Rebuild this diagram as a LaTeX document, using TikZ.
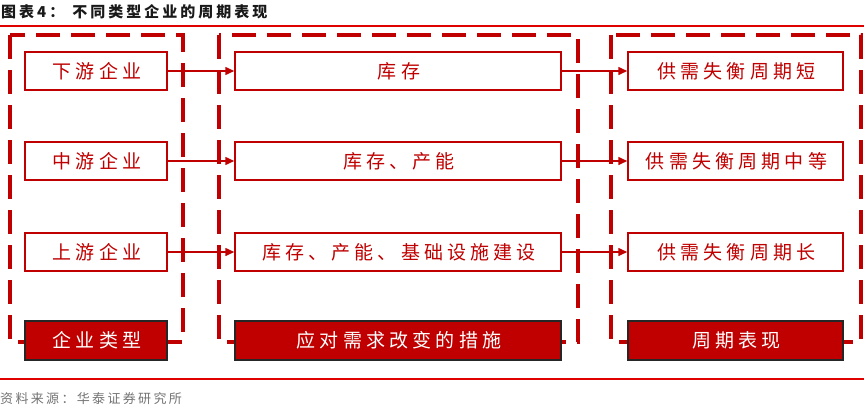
\documentclass[tikz,border=0pt]{standalone}
\usepackage{fontspec}
\newfontfamily\cjk[LetterSpace=22]{Noto Sans CJK SC}
\newfontfamily\cjktitle[LetterSpace=20]{Noto Sans CJK SC}
\newfontfamily\cjksrc[LetterSpace=18]{Noto Sans CJK SC}
\usetikzlibrary{arrows.meta}
\definecolor{dred}{HTML}{C00000}
\definecolor{lred}{HTML}{E00000}
\begin{document}
\begin{tikzpicture}[x=1pt,y=-1pt,
  grp/.style={draw=dred, line width=3.5pt, dash pattern=on 24pt off 11pt},
  item/.style={draw=dred, line width=1.5pt, fill=white, text=dred, inner sep=0pt,
    minimum height=38pt, font=\cjk\fontsize{19}{21}\selectfont,
    execute at begin node=\hspace{2pt}},
  lab/.style={draw=black!85, line width=1.5pt, fill=dred, text=white, inner sep=0pt,
    minimum height=39pt, font=\cjk\fontsize{19}{21}\selectfont,
    execute at begin node=\hspace{2pt}},
  arr/.style={draw=dred, line width=1.5pt, -{Triangle[length=9pt,width=8pt]}},
  rule/.style={draw=lred, line width=2pt}]
\useasboundingbox (0,0) rectangle (864,407);
% title and rules
\node[anchor=west, inner sep=0pt, text=black!90, font=\cjktitle\bfseries\fontsize{15}{17}\selectfont] (title) at (1,12) {图表4：\hspace{8pt}不同类型企业的周期表现};
\coordinate (r1a) at (0,26); \coordinate (r1b) at (864,26);
\coordinate (r2a) at (0,379); \coordinate (r2b) at (864,379);
\draw[rule] (r1a) -- (r1b);
\draw[rule] (r2a) -- (r2b);
\node[anchor=west, inner sep=0pt, text=black!55, font=\cjksrc\fontsize{13}{15}\selectfont] (src) at (0,399) {资料来源：华泰证券研究所};
% dashed groups
\draw[grp] (10,35) rectangle (183,342);
\draw[grp] (219,35) rectangle (578,342);
\draw[grp] (611,35) rectangle (861,342);
% items
\node[item, minimum width=142pt] (a1) at (96,71) {下游企业};
\node[item, minimum width=142pt] (a2) at (96,161) {中游企业};
\node[item, minimum width=142pt] (a3) at (96,252) {上游企业};
\node[item, minimum width=326pt] (b1) at (398,71) {库存};
\node[item, minimum width=326pt] (b2) at (398,161) {库存、产能};
\node[item, minimum width=326pt] (b3) at (398,252) {库存、产能、基础设施建设};
\node[item, minimum width=215pt] (c1) at (735.5,71) {供需失衡周期短};
\node[item, minimum width=215pt] (c2) at (735.5,161) {供需失衡周期中等};
\node[item, minimum width=215pt] (c3) at (735.5,252) {供需失衡周期长};
% labels
\node[lab, minimum width=142pt] (la) at (96,340.5) {企业类型};
\node[lab, minimum width=326pt] (lb) at (398,340.5) {应对需求改变的措施};
\node[lab, minimum width=215pt] (lc) at (735.5,340.5) {周期表现};
% arrows
\foreach \i in {1,2,3}{
  \draw[arr] (a\i.east) -- (b\i.west);
  \draw[arr] (b\i.east) -- (c\i.west);
}
\end{tikzpicture}
\end{document}
